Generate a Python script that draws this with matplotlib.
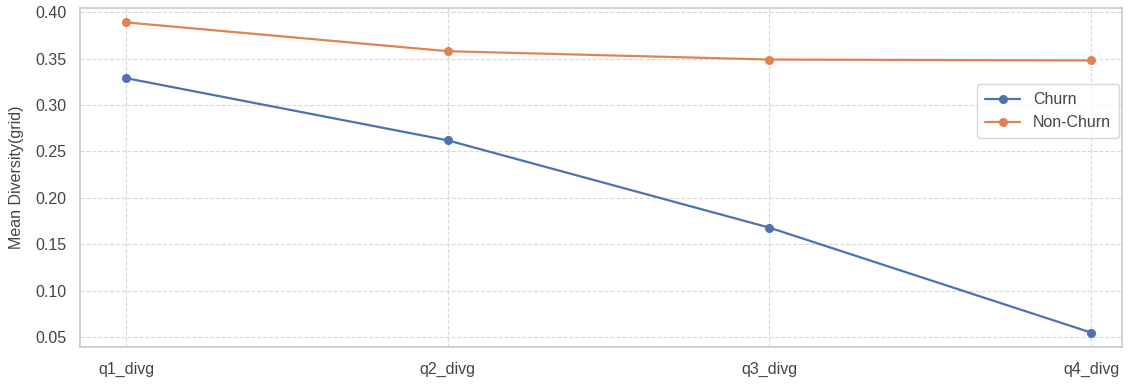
import matplotlib
matplotlib.use("Agg")
import matplotlib.pyplot as plt
import seaborn as sns

categories = ["q1_divg", "q2_divg", "q3_divg", "q4_divg"]
churn = [0.329, 0.262, 0.168, 0.055]
non_churn = [0.389, 0.358, 0.349, 0.348]
yticks = [0.05, 0.10, 0.15, 0.20, 0.25, 0.30, 0.35, 0.40]

sns.set_theme(style="whitegrid")
plt.rcParams['font.family'] = ['Liberation Sans', 'DejaVu Sans']

fig = plt.figure(figsize=(11.41, 3.90), dpi=100)
ax = fig.add_axes([80/1141, 1 - 347/390, (1122-80)/1141, (347-8)/390])
x = list(range(len(categories)))
pal = sns.color_palette("deep")
ax.plot(x, churn, marker='o', color=pal[0], lw=1.6, ms=5.5, label='Churn')
ax.plot(x, non_churn, marker='o', color=pal[1], lw=1.6, ms=5.5, label='Non-Churn')
ax.set_xticks(x)
ax.set_xticklabels(categories, fontsize=11.5, color='#444444')
ax.set_yticks(yticks)
ax.set_yticklabels([f"{v:.2f}" for v in yticks], fontsize=11.5, color='#444444')
ax.set_xlim(-0.143, 3.096)
ax.set_ylim(0.0395, 0.4045)
ax.set_ylabel("Mean Diversity(grid)", fontsize=11.5, color='#444444', labelpad=8)
ax.grid(True, linestyle='--', color='#d8d8d8', lw=0.8)
for s in ax.spines.values():
    s.set_color('#cccccc')
ax.tick_params(axis='x', pad=5)
leg = ax.legend(loc='upper right', bbox_to_anchor=(0.997, 0.775), fontsize=11.5,
                frameon=True, borderaxespad=0.0, borderpad=0.5, handlelength=2.2)
for t in leg.get_texts():
    t.set_color('#444444')
fig.savefig("out.png", dpi=100)
